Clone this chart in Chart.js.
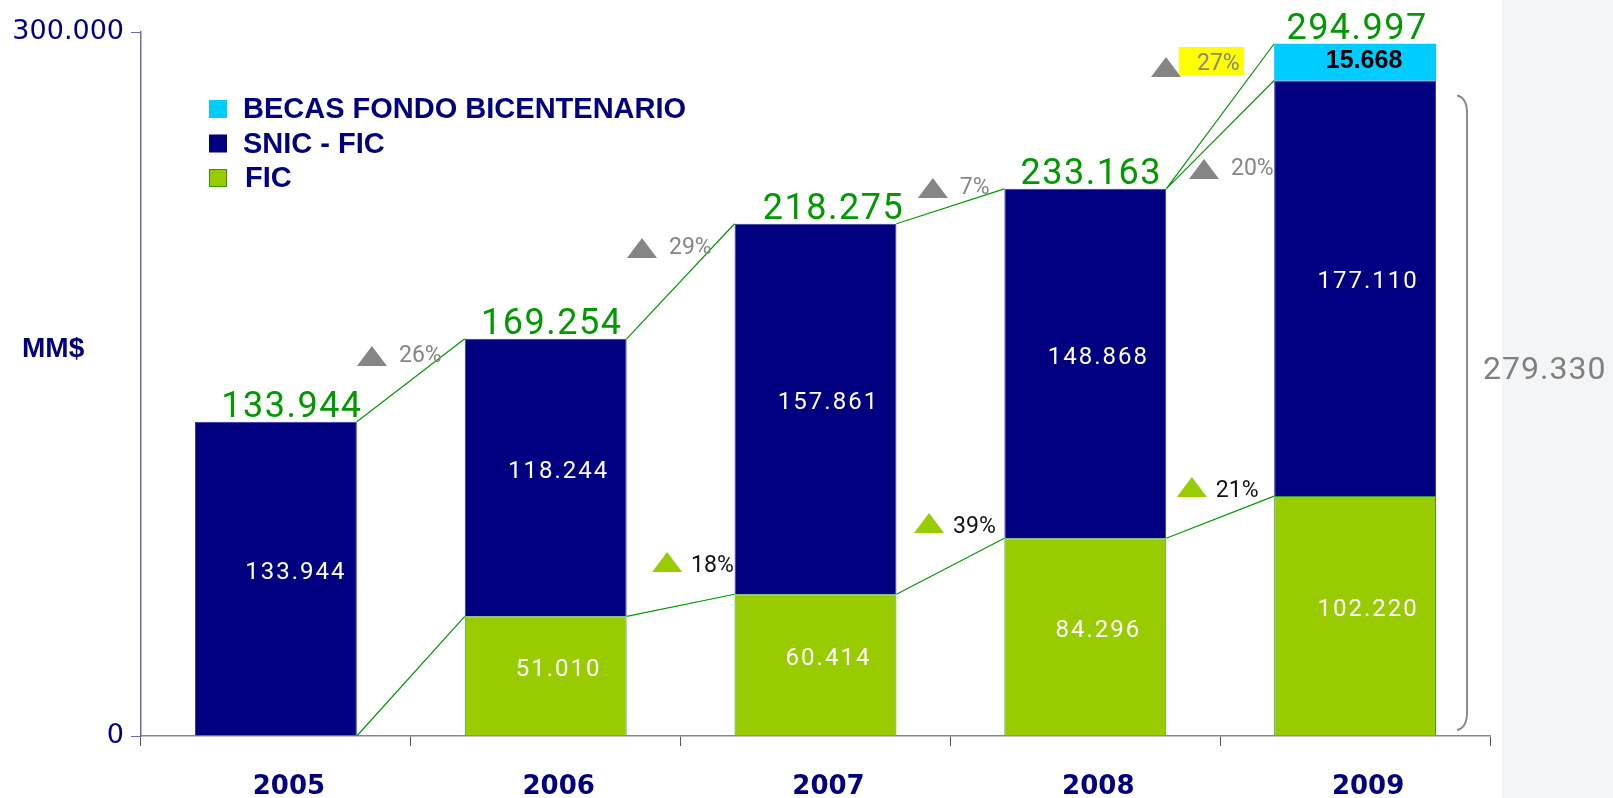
<!DOCTYPE html>
<html>
<head>
<meta charset="utf-8">
<script src="https://cdn.jsdelivr.net/npm/chart.js@4/dist/chart.umd.min.js"></script>
<style>
  html, body { margin: 0; padding: 0; background: #fff; }
  #wrap { width: 1613px; height: 798px; position: relative; }
</style>
</head>
<body>
<div id="wrap"><canvas id="budgetChart"></canvas></div>
<script>
const years = ["2005", "2006", "2007", "2008", "2009"];
const ficValues = [0, 51010, 60414, 84296, 102220];
const snicValues = [133944, 118244, 157861, 148868, 177110];
const becasValues = [null, null, null, null, 15668];
const totalValues = [133944, 169254, 218275, 233163, 294997];
const totalGrowth = ["26%", "29%", "7%", "20%"];
const ficGrowth = ["18%", "39%", "21%"];
const becasGrowth = "27%";
const yTicks = [0, 300000];

const NAVY = "#000080";
const GREEN = "#99cc00";
const CYAN = "#00ccff";
const LINE_GREEN = "#009900";
const GRAY = "#858585";

function fmt(v) {
  return String(v).replace(/\B(?=(\d{3})+(?!\d))/g, ".");
}

// where the growth triangles sit (category index, value level of the triangle base)
const totalMarkSpots = [[0.356, 157670], [1.357, 203693], [2.435, 229261], [3.44, 237358]];
const ficMarkSpots = [[1.45, 69886], [2.421, 86506], [3.395, 101847]];
const becasMarkSpot = [3.299, 280824];
const totalShift = [16, 6, 18, 6, 2];
const innerShift = [20, 13, 13, 13, 13];

function tri(ctx, cx, base, color) {
  ctx.fillStyle = color;
  ctx.beginPath();
  ctx.moveTo(cx - 15, base);
  ctx.lineTo(cx + 15, base);
  ctx.lineTo(cx, base - 20);
  ctx.closePath();
  ctx.fill();
}

function catX(xs, idx) {
  const i = Math.floor(idx);
  const a = xs.getPixelForValue(i);
  const b = xs.getPixelForValue(i + 1);
  return a + (b - a) * (idx - i);
}

const overlay = {
  id: "overlay",
  beforeDraw(chart) {
    const ctx = chart.ctx;
    ctx.save();
    ctx.fillStyle = "#f4f5f7";
    ctx.fillRect(1502, 0, chart.width - 1502, chart.height);
    ctx.restore();
  },
  afterDatasetsDraw(chart) {
    const ctx = chart.ctx;
    const ys = chart.scales.y;
    const xs = chart.scales.x;
    const bars = chart.getDatasetMeta(1).data;
    const left = i => bars[i].x - bars[i].width / 2;
    const right = i => bars[i].x + bars[i].width / 2;
    ctx.save();

    // connector lines
    ctx.strokeStyle = LINE_GREEN;
    ctx.lineWidth = 1.2;
    ctx.beginPath();
    for (let i = 0; i < years.length - 1; i++) {
      ctx.moveTo(right(i), ys.getPixelForValue(totalValues[i]));
      ctx.lineTo(left(i + 1), ys.getPixelForValue(totalValues[i + 1]));
      ctx.moveTo(right(i), ys.getPixelForValue(ficValues[i]));
      ctx.lineTo(left(i + 1), ys.getPixelForValue(ficValues[i + 1]));
    }
    const last = years.length - 1;
    ctx.moveTo(right(last - 1), ys.getPixelForValue(totalValues[last - 1]));
    ctx.lineTo(left(last), ys.getPixelForValue(ficValues[last] + snicValues[last]));
    ctx.stroke();

    // totals
    ctx.fillStyle = LINE_GREEN;
    ctx.font = "36px Roboto";
    ctx.letterSpacing = "1.5px";
    ctx.textAlign = "center";
    ctx.textBaseline = "alphabetic";
    totalValues.forEach((v, i) => {
      ctx.fillText(fmt(v), bars[i].x + totalShift[i], ys.getPixelForValue(v) - 5);
    });

    // values inside segments
    ctx.fillStyle = "#fff";
    ctx.font = "24px Roboto";
    ctx.letterSpacing = "2px";
    ctx.textBaseline = "middle";
    years.forEach((y, i) => {
      const x = bars[i].x + innerShift[i];
      if (ficValues[i]) {
        ctx.fillText(fmt(ficValues[i]), x, (ys.getPixelForValue(0) + ys.getPixelForValue(ficValues[i])) / 2 - 6);
      }
      const lo = ys.getPixelForValue(ficValues[i]);
      const hi = ys.getPixelForValue(ficValues[i] + snicValues[i]);
      ctx.fillText(fmt(snicValues[i]), x, (lo + hi) / 2 - 6);
    });
    const becasMeta = chart.getDatasetMeta(2).data[last];
    ctx.fillStyle = "#000";
    ctx.font = "bold 25px 'Liberation Sans'";
    ctx.letterSpacing = "0px";
    ctx.fillText(fmt(becasValues[last]), becasMeta.x + 9, (becasMeta.y + becasMeta.base) / 2 - 1);

    // growth marks
    ctx.textAlign = "left";
    ctx.textBaseline = "alphabetic";
    ctx.font = "23px Roboto";
    totalGrowth.forEach((t, i) => {
      const cx = catX(xs, totalMarkSpots[i][0]);
      const base = ys.getPixelForValue(totalMarkSpots[i][1]);
      tri(ctx, cx, base, GRAY);
      ctx.fillStyle = GRAY;
      ctx.fillText(t, cx + 27, base - 4);
    });
    ficGrowth.forEach((t, i) => {
      const cx = catX(xs, ficMarkSpots[i][0]);
      const base = ys.getPixelForValue(ficMarkSpots[i][1]);
      tri(ctx, cx, base, GREEN);
      ctx.fillStyle = "#111";
      ctx.fillText(t, cx + 24, base);
    });
    {
      const cx = catX(xs, becasMarkSpot[0]);
      const base = ys.getPixelForValue(becasMarkSpot[1]);
      tri(ctx, cx, base, GRAY);
      ctx.fillStyle = "#ffff00";
      ctx.fillRect(cx + 13, base - 30, 65, 28);
      ctx.fillStyle = GRAY;
      ctx.fillText(becasGrowth, cx + 31, base - 7);
    }

    // brace for SNIC + FIC of last year
    const bTop = ys.getPixelForValue(ficValues[last] + snicValues[last]) + 15;
    const bBot = ys.getPixelForValue(0) - 6;
    const bx = right(last) + 31;
    ctx.strokeStyle = "#8a8a8a";
    ctx.lineWidth = 2;
    ctx.beginPath();
    ctx.moveTo(bx - 10, bTop);
    ctx.quadraticCurveTo(bx, bTop + 2, bx, bTop + 18);
    ctx.lineTo(bx, bBot - 18);
    ctx.quadraticCurveTo(bx, bBot - 2, bx - 10, bBot);
    ctx.stroke();
    ctx.fillStyle = "#808080";
    ctx.font = "32px Roboto";
    ctx.letterSpacing = "1px";
    ctx.fillText(fmt(ficValues[last] + snicValues[last]), bx + 16, bTop + 283);

    ctx.restore();
  },
  afterDraw(chart) {
    const ctx = chart.ctx;
    ctx.save();
    // legend
    const order = [2, 1, 0];
    ctx.font = "bold 29px 'Liberation Sans'";
    ctx.textBaseline = "alphabetic";
    order.forEach((d, k) => {
      const ds = chart.data.datasets[d];
      const base = 118 + k * 34.5;
      ctx.fillStyle = ds.backgroundColor;
      ctx.fillRect(209, base - 18, 18, 18);
      if (d === 0) {
        ctx.strokeStyle = "#339900";
        ctx.lineWidth = 1;
        ctx.strokeRect(209.5, base - 17.5, 17, 17);
      }
      ctx.fillStyle = NAVY;
      ctx.fillText(ds.label, d === 0 ? 245 : 243, base);
    });
    // unit label
    ctx.font = "bold 28px 'Liberation Sans'";
    ctx.fillText("MM$", 22, 357);
    ctx.restore();
  }
};

new Chart(document.getElementById("budgetChart"), {
  type: "bar",
  data: {
    labels: years,
    datasets: [
      { label: "FIC", data: ficValues, backgroundColor: GREEN, borderColor: "#339933", borderWidth: 1 },
      { label: "SNIC - FIC", data: snicValues, backgroundColor: NAVY, borderColor: "#3434a0", borderWidth: 1 },
      { label: "BECAS FONDO BICENTENARIO", data: becasValues, backgroundColor: CYAN, borderWidth: 0 }
    ]
  },
  options: {
    responsive: true,
    maintainAspectRatio: false,
    animation: false,
    layout: { padding: { left: 0, right: 123, top: 32, bottom: 0 } },
    plugins: { legend: { display: false }, tooltip: { enabled: false } },
    datasets: { bar: { barPercentage: 0.6, categoryPercentage: 1 } },
    scales: {
      x: {
        stacked: true,
        grid: { offset: true, drawOnChartArea: false, drawTicks: true, tickLength: 10, color: "#555" },
        border: { color: "#888", width: 1.5 },
        ticks: { color: NAVY, font: { family: "'DejaVu Sans'", size: 26, weight: "bold" }, padding: 26, labelOffset: 13 },
        afterFit(s) { s.height = 62; }
      },
      y: {
        stacked: true,
        min: 0,
        max: 300000,
        afterBuildTicks(s) { s.ticks = yTicks.map(v => ({ value: v })); },
        grid: { drawOnChartArea: false, drawTicks: true, tickLength: 10, color: "#6a6aa8" },
        border: { color: "#6a6aa8", width: 1.5 },
        ticks: { color: NAVY, font: { family: "'DejaVu Sans'", size: 27 }, padding: 7, callback: v => fmt(v) },
        afterFit(s) { s.width = 141; }
      }
    }
  },
  plugins: [overlay]
});
</script>
</body>
</html>
